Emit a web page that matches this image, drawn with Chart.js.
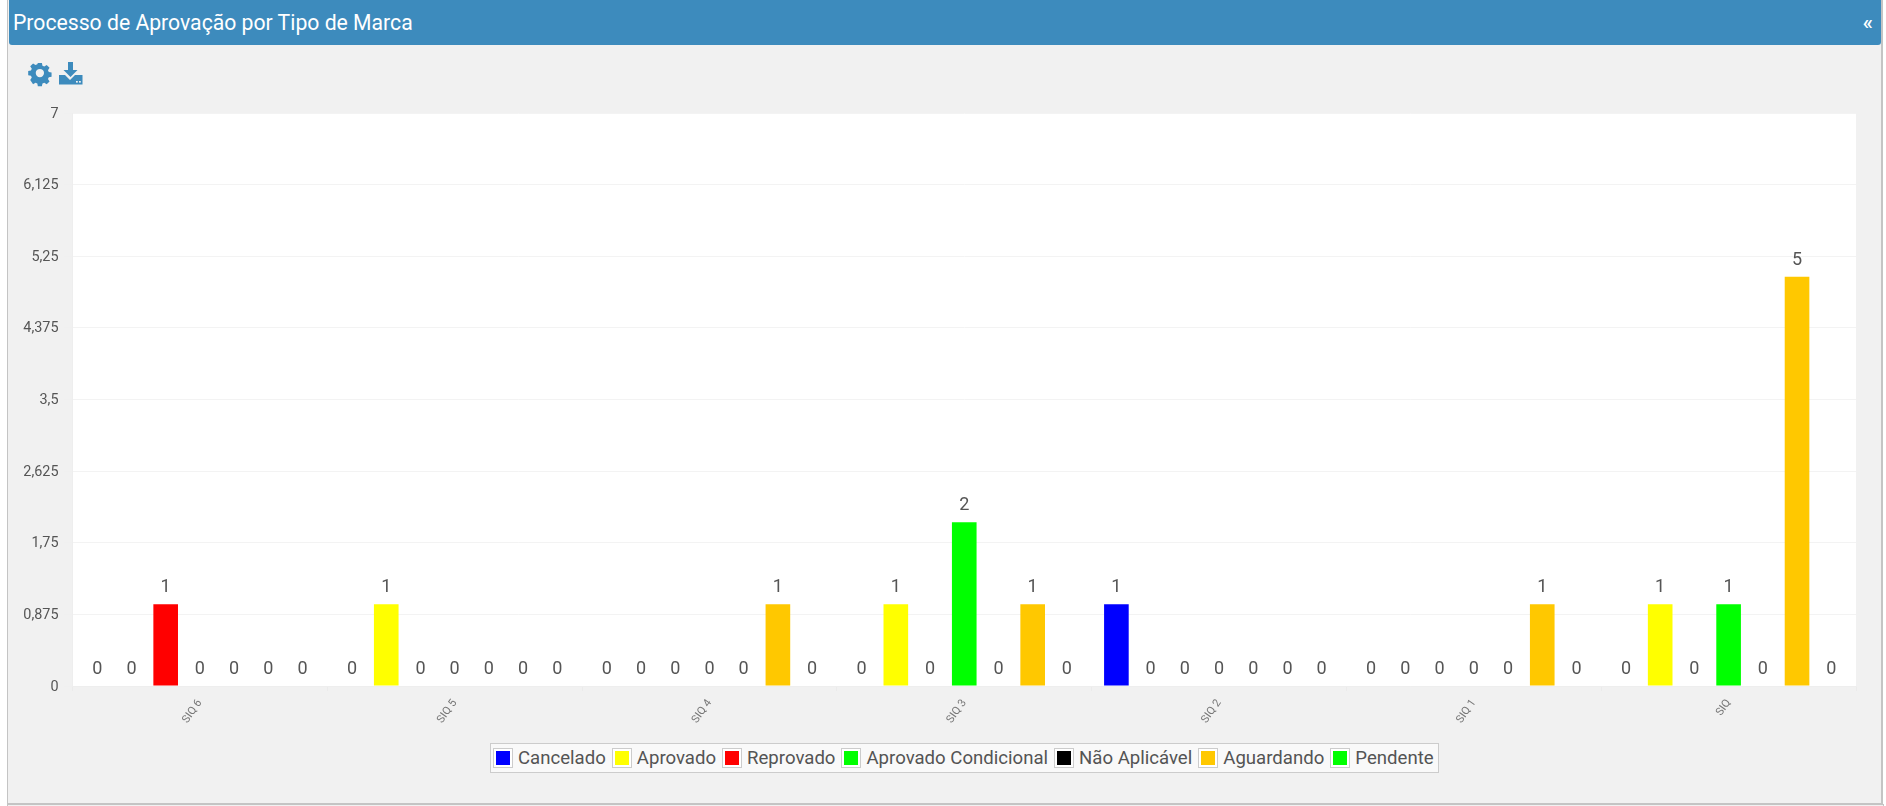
<!DOCTYPE html>
<html lang="pt"><head><meta charset="utf-8">
<title>Processo de Aprovação por Tipo de Marca</title>
<script src="https://cdn.jsdelivr.net/npm/chart.js@4"></script>
<style>
html,body{margin:0;padding:0;width:1886px;height:806px;overflow:hidden;background:#fff;font-family:Roboto,sans-serif}
#panel{position:absolute;left:7px;top:-2px;width:1873px;height:803px;background:#f1f1f1;border:1px solid #c4c4c4;border-width:2px 2px 2px 1px}
#next{position:absolute;left:7px;top:804px;width:1875px;height:10px;border:1px solid #c4c4c4;background:#f1f1f1}
#head{position:absolute;left:9px;top:0;width:1872px;height:45px;background:#3d8bbd;border-radius:0 0 3px 3px;color:#fff}
#title{position:absolute;left:4px;top:10px;font-size:21.2px;line-height:26px;white-space:nowrap}
#coll{position:absolute;right:8px;top:11px;font-size:21px;line-height:22px;font-weight:500}
#icons{position:absolute;left:28px;top:61px}
#c{position:absolute;left:0;top:0}
#legend{position:absolute;left:490px;top:743px;height:30px;width:949px;box-sizing:border-box;border:1px solid #ccc;background:#f9f9f9;display:flex;align-items:center;padding-left:2px;font-size:18.6px;color:#545454;white-space:nowrap}
#legend .sw{box-sizing:border-box;width:20px;height:20px;border:1px solid #ccc;padding:2px;background:#fff;margin-right:5px;display:block}
#legend .sw i{display:block;width:100%;height:100%}
#legend .it{display:flex;align-items:center;margin-right:6px}
</style></head><body>
<div id="panel"></div><div id="next"></div>
<div id="head"><div id="title">Processo de Aprovação por Tipo de Marca</div><div id="coll">«</div></div>
<svg id="icons" width="58" height="26" viewBox="0 0 58 26">
 <g fill="#3d8bbd">
  <path fill-rule="evenodd" d="M9.3 1h4.4l.6 3 2 .9 2.6-1.7 3.1 3.1-1.7 2.6.9 2 3 .6v4.4l-3 .6-.9 2 1.7 2.6-3.1 3.1-2.6-1.7-2 .9-.6 3H9.3l-.6-3-2-.9-2.6 1.7L1 19.500l1.700-2.600-.9-2-3-.6 0 0V9.900l3-.6.9-2L1 4.700 4.100 1.600l2.600 1.700 2-.9zM11.500 7.500a4.500 4.500 0 1 0 0 9 4.500 4.500 0 0 0 0-9z" transform="translate(1.300 1) scale(.92)"/>
  <path d="M40 1h5v8h4.500l-7 7-7-7H40z"/>
  <path d="M31 14h6l5 5 5-5h7.500v9.500h-23.500z"/>
 </g>
 <rect x="48" y="20" width="1.800" height="1.600" fill="#f1f1f1"/><rect x="51" y="20" width="1.800" height="1.600" fill="#f1f1f1"/>
</svg>
<canvas id="c" width="1886" height="806"></canvas>
<div id="legend"></div>
<script>
const categories = ["SIQ 6","SIQ 5","SIQ 4","SIQ 3","SIQ 2","SIQ 1","SIQ"];
const seriesNames = ["Cancelado","Aprovado","Reprovado","Aprovado Condicional","Não Aplicável","Aguardando","Pendente"];
const seriesColors = ["#0000ff","#ffff00","#ff0000","#00ff00","#000000","#ffc800","#00ff00"];
const cancelado   = [0,0,0,0,1,0,0];
const aprovado    = [0,1,0,1,0,0,1];
const reprovado   = [1,0,0,0,0,0,0];
const aprovadoCondicional = [0,0,0,2,0,0,1];
const naoAplicavel = [0,0,0,0,0,0,0];
const aguardando  = [0,0,1,1,0,1,5];
const pendente    = [0,0,0,0,0,0,0];
const seriesValues = [cancelado,aprovado,reprovado,aprovadoCondicional,naoAplicavel,aguardando,pendente];
const yMax = 7, yStep = 0.875;

const plotBg = {id:'plotBg',beforeDraw(ch){const a=ch.chartArea,x=ch.ctx;x.save();x.fillStyle='#fff';x.fillRect(a.left,a.top,a.right-a.left,a.bottom-a.top);x.restore();}};
const valueLabels = {id:'valueLabels',afterDatasetsDraw(ch){const x=ch.ctx;x.save();x.font='18px Roboto';x.fillStyle='#555';x.textAlign='center';x.textBaseline='alphabetic';
  ch.data.datasets.forEach((d,i)=>ch.getDatasetMeta(i).data.forEach((el,j)=>{x.fillText(String(d.data[j]),el.x,el.y-12);}));x.restore();}};

const chart = new Chart(document.getElementById('c'),{
  type:'bar',
  data:{labels:categories,datasets:seriesNames.map((n,i)=>({label:n,data:seriesValues[i],backgroundColor:seriesColors[i],borderWidth:0,categoryPercentage:0.94,barPercentage:0.72}))},
  options:{responsive:false,animation:false,
    layout:{padding:{left:0,right:30,top:113,bottom:60}},
    plugins:{legend:{display:false},tooltip:{enabled:false}},
    scales:{
      x:{afterFit(s){s.height=60;},grid:{drawOnChartArea:false,color:'#ebebeb',tickLength:5,tickColor:'#ebebeb'},border:{color:'#eeeeee'},
         ticks:{minRotation:55,maxRotation:55,autoSkip:false,padding:6,color:'#777',font:{family:'Roboto',size:11}}},
      y:{min:0,max:yMax,afterFit(s){s.width=72.5;},afterBuildTicks(s){s.ticks=Array.from({length:9},(_,i)=>({value:i*yStep}));},
         grid:{color:'#f3f3f3',tickLength:9,tickColor:'#f0f0f0'},border:{color:'#eeeeee'},
         ticks:{padding:5,labelOffset:1,color:'#555',font:{family:'Roboto',size:14.4},callback:v=>String(v).replace('.',',')}}
    }},
  plugins:[plotBg,valueLabels]
});

const lg=document.getElementById('legend');
chart.data.datasets.forEach(d=>{const it=document.createElement('span');it.className='it';
  const sw=document.createElement('span');sw.className='sw';const i=document.createElement('i');i.style.background=d.backgroundColor;sw.appendChild(i);
  const t=document.createElement('span');t.textContent=d.label;it.appendChild(sw);it.appendChild(t);lg.appendChild(it);});
</script>
</body></html>
